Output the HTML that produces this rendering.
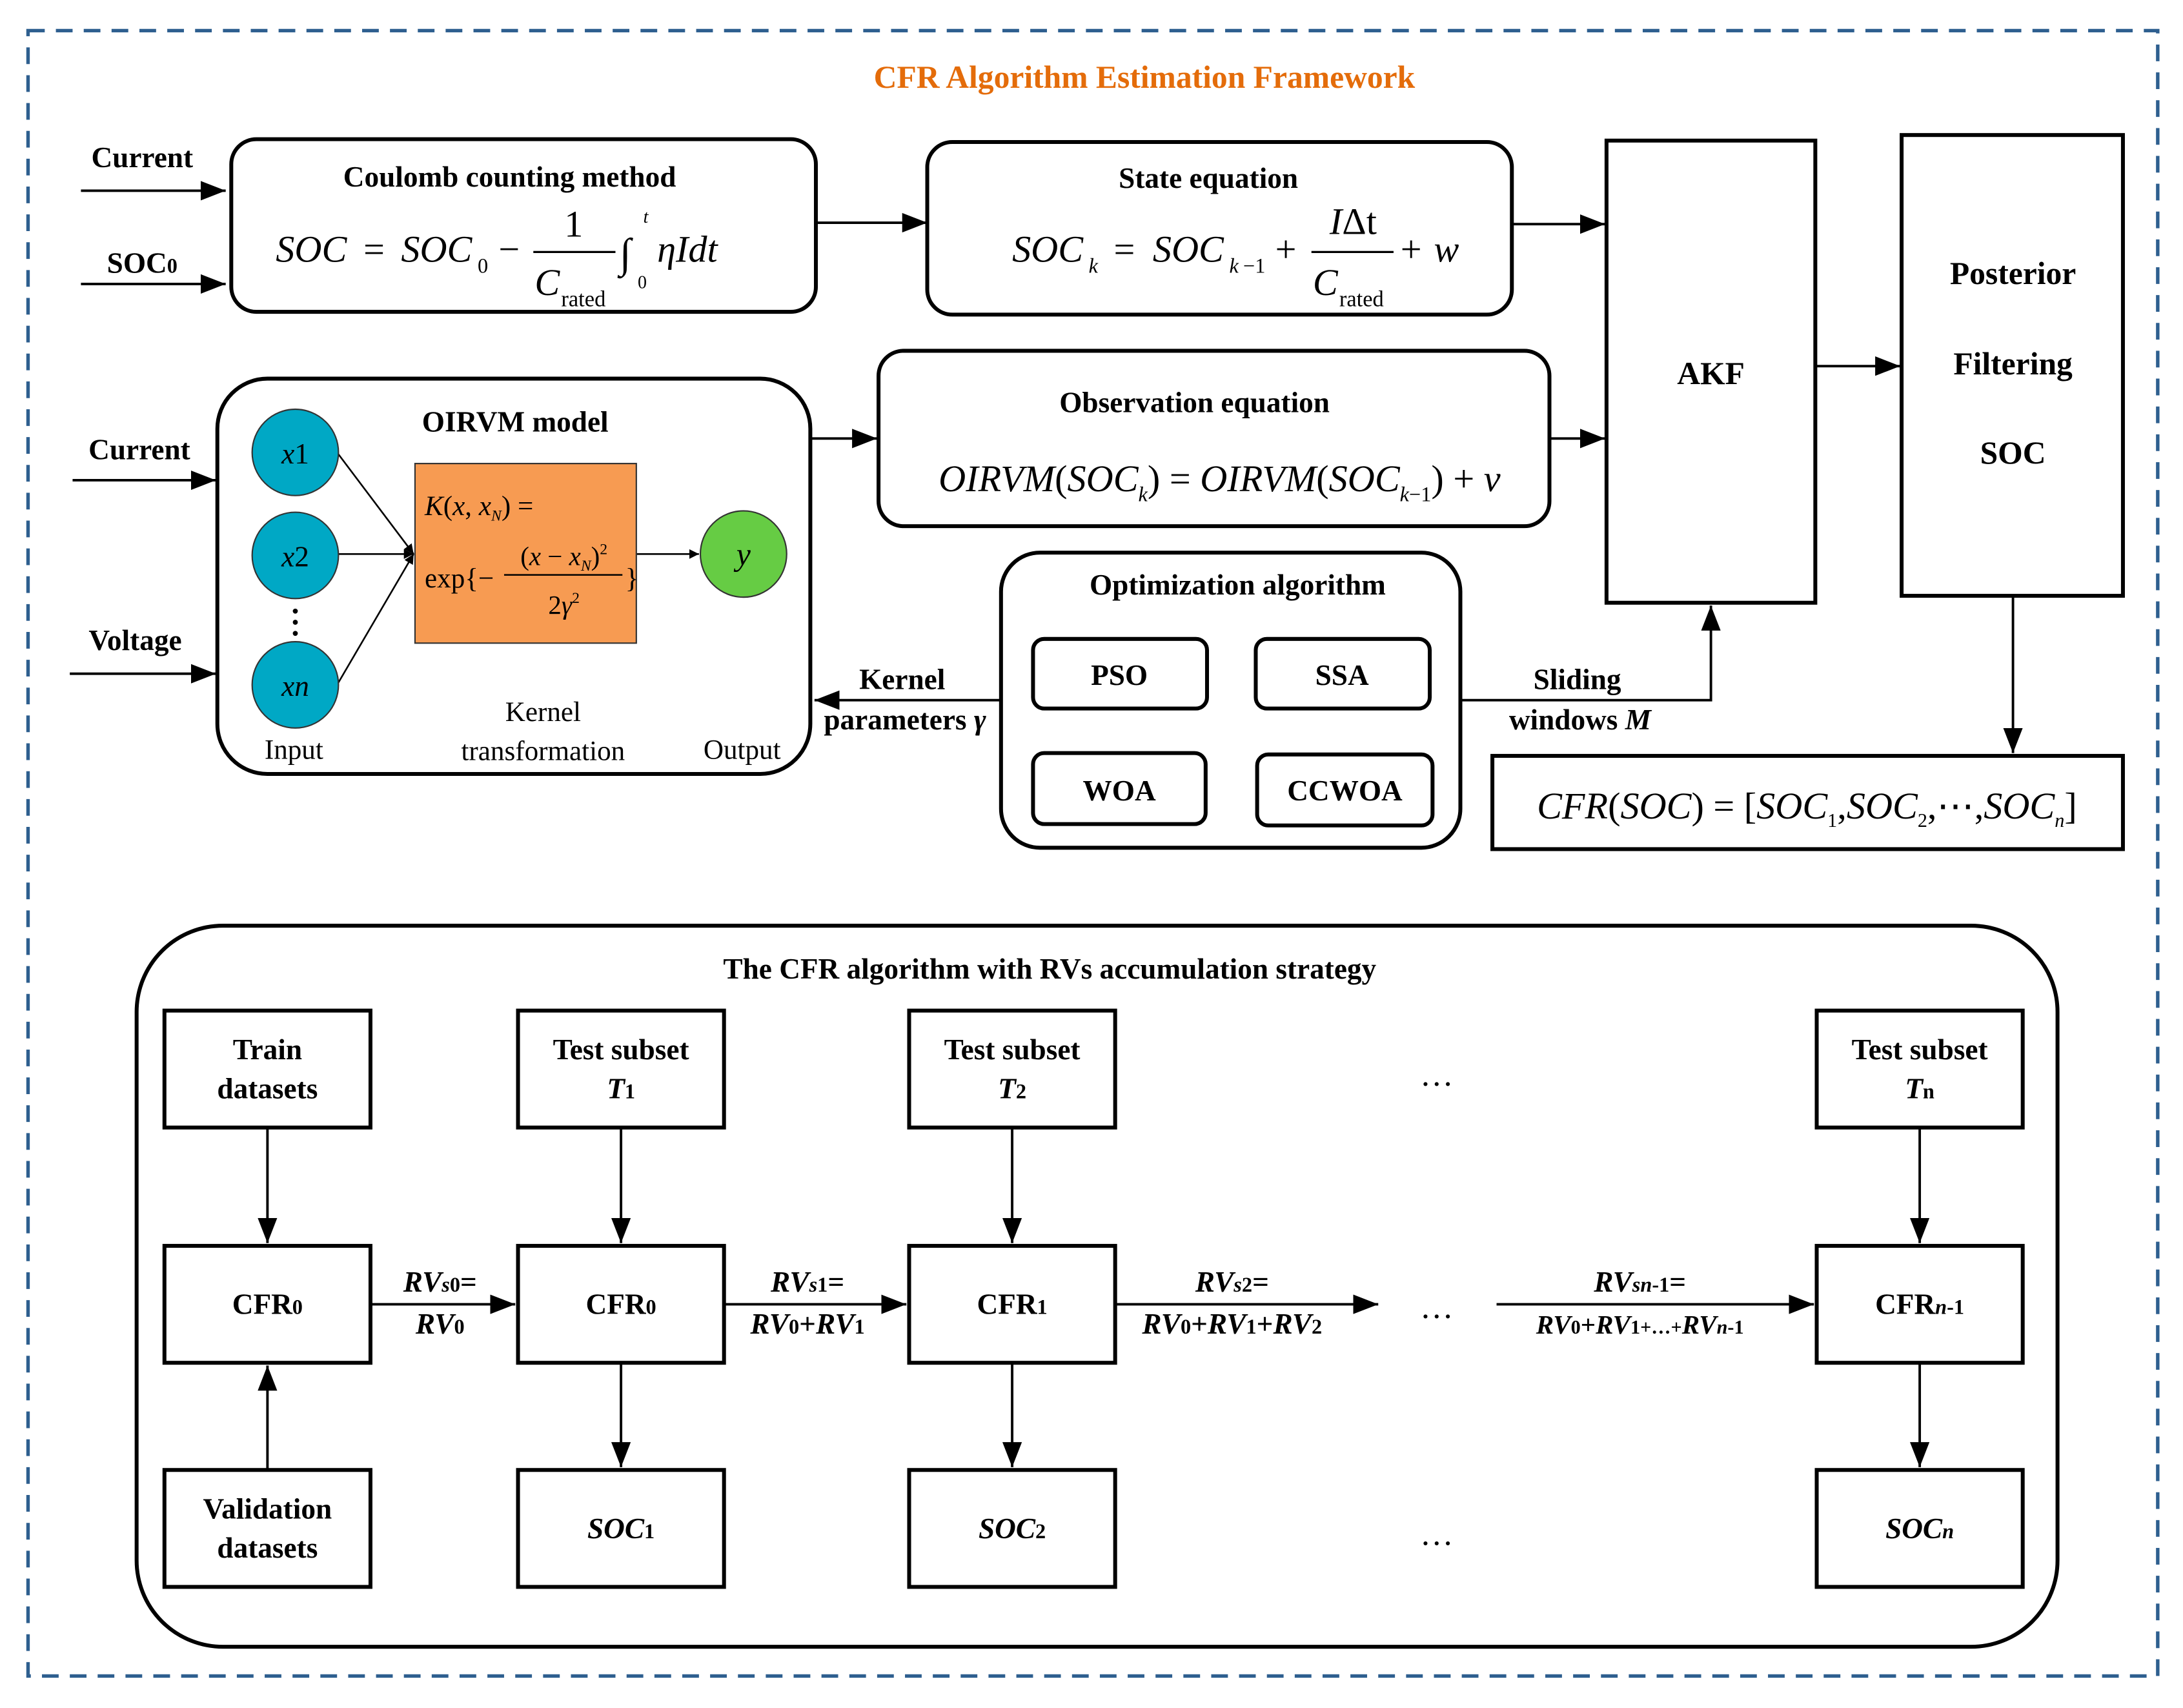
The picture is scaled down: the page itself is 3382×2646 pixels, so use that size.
<!DOCTYPE html>
<html><head><meta charset="utf-8"><style>
html,body{margin:0;padding:0;background:#fff;}
svg{display:block;}
text{font-family:"Liberation Serif",serif;fill:#000;}
.b{font-weight:bold;}
.i{font-style:italic;}
</style></head><body>
<svg width="3382" height="2646" viewBox="0 0 1568 1227" xmlns="http://www.w3.org/2000/svg">
<defs>
<marker id="a" viewBox="0 0 10 10" refX="10" refY="5" markerWidth="7" markerHeight="7" markerUnits="userSpaceOnUse" orient="auto"><path d="M0,0 L10,5 L0,10 z" fill="#000"/></marker>
<marker id="A" viewBox="0 0 10 10" refX="10" refY="5" markerWidth="18" markerHeight="14" markerUnits="userSpaceOnUse" orient="auto" preserveAspectRatio="none"><path d="M0,0 L10,5 L0,10 z" fill="#000"/></marker>
</defs>
<rect x="0" y="0" width="1568" height="1227" fill="#fff"/>
<rect x="20" y="22" width="1530" height="1182" fill="none" stroke="#2e5f8f" stroke-width="2.5" stroke-dasharray="12,8"/>
<text x="822" y="63" text-anchor="middle" class="b" font-size="23" style="fill:#e46c0a">CFR Algorithm Estimation Framework</text>

<g fill="none" stroke="#000" stroke-width="1.8">
<line x1="58" y1="137" x2="162" y2="137" marker-end="url(#A)"/>
<line x1="58" y1="204" x2="162" y2="204" marker-end="url(#A)"/>
<line x1="586" y1="160" x2="666" y2="160" marker-end="url(#A)"/>
<line x1="1086" y1="161" x2="1153" y2="161" marker-end="url(#A)"/>
<line x1="1304" y1="263" x2="1365" y2="263" marker-end="url(#A)"/>
<line x1="1446" y1="429" x2="1446" y2="541" marker-end="url(#A)"/>
<line x1="52" y1="345" x2="155" y2="345" marker-end="url(#A)"/>
<line x1="50" y1="484" x2="155" y2="484" marker-end="url(#A)"/>
<line x1="582" y1="315" x2="630" y2="315" marker-end="url(#A)"/>
<line x1="1113" y1="315" x2="1153" y2="315" marker-end="url(#A)"/>
<line x1="719" y1="503" x2="585" y2="503" marker-end="url(#A)"/>
<polyline points="1049,503 1229,503 1229,435" marker-end="url(#A)"/>
</g>
<g fill="none" stroke="#000" stroke-width="2.8">
<rect x="166" y="100" width="420" height="124" rx="18"/>
<rect x="666" y="102" width="420" height="124" rx="18"/>
<rect x="1154" y="101" width="150" height="332"/>
<rect x="1366" y="97" width="159" height="331"/>
<rect x="1072" y="543" width="453" height="67"/>
<rect x="156" y="272" width="426" height="284" rx="36"/>
<rect x="631" y="252" width="482" height="126" rx="18"/>
<rect x="719" y="397" width="330" height="212" rx="28"/>
<rect x="742" y="459" width="125" height="50" rx="8"/>
<rect x="902" y="459" width="125" height="50" rx="8"/>
<rect x="742" y="541" width="124" height="51" rx="8"/>
<rect x="903" y="542" width="126" height="51" rx="8"/>
</g>
<text x="102" y="120" text-anchor="middle" class="b" font-size="21">Current</text>
<text x="102" y="196" text-anchor="middle" class="b" font-size="21">SOC<tspan font-size="15">0</tspan></text>
<text x="366" y="134" text-anchor="middle" class="b" font-size="21">Coulomb counting method</text>
<text x="198" y="188" class="i" font-size="27">SOC</text><text x="261" y="188" font-size="27">=</text><text x="288" y="188" class="i" font-size="27">SOC</text><text x="343" y="196" font-size="15">0</text><text x="358" y="188" font-size="27">−</text>
<line x1="383" y1="181" x2="442" y2="181" stroke="#000" stroke-width="1.5"/>
<text x="412" y="170" text-anchor="middle" font-size="27">1</text><text x="384" y="212" class="i" font-size="27">C</text><text x="403" y="220" font-size="16">rated</text>
<text x="445" y="192" font-size="30">∫</text><text x="462" y="160" class="i" font-size="13">t</text><text x="458" y="207" font-size="13">0</text>
<text x="472" y="188" class="i" font-size="27">ηIdt</text>

<text x="868" y="135" text-anchor="middle" class="b" font-size="21">State  equation</text>
<text x="727" y="188" class="i" font-size="27">SOC</text><text x="782" y="196" class="i" font-size="15">k</text><text x="800" y="188" font-size="27">=</text><text x="828" y="188" class="i" font-size="27">SOC</text><text x="883" y="196" class="i" font-size="15">k</text><text x="893" y="196" font-size="15">−1</text><text x="916" y="188" font-size="27">+</text>
<line x1="942" y1="181" x2="1001" y2="181" stroke="#000" stroke-width="1.5"/>
<text x="972" y="168" text-anchor="middle" font-size="27"><tspan class="i">I</tspan>Δt</text><text x="943" y="212" class="i" font-size="27">C</text><text x="962" y="220" font-size="16">rated</text>
<text x="1006" y="188" font-size="27">+</text><text x="1030" y="188" class="i" font-size="27">w</text>

<text x="1229" y="276" text-anchor="middle" class="b" font-size="23">AKF</text>
<text x="1446" y="204" text-anchor="middle" class="b" font-size="23">Posterior</text>
<text x="1446" y="269" text-anchor="middle" class="b" font-size="23">Filtering</text>
<text x="1446" y="333" text-anchor="middle" class="b" font-size="23">SOC</text>
<text x="1298" y="588" text-anchor="middle" font-size="27"><tspan class="i">CFR</tspan>(<tspan class="i">SOC</tspan>) = [<tspan class="i">SOC</tspan><tspan font-size="14" dy="6">1</tspan><tspan dy="-6">,</tspan><tspan class="i">SOC</tspan><tspan font-size="14" dy="6">2</tspan><tspan dy="-6">,⋯,</tspan><tspan class="i">SOC</tspan><tspan class="i" font-size="14" dy="6">n</tspan><tspan dy="-6">]</tspan></text>

<text x="100" y="330" text-anchor="middle" class="b" font-size="21">Current</text>
<text x="97" y="467" text-anchor="middle" class="b" font-size="21">Voltage</text>
<text x="370" y="310" text-anchor="middle" class="b" font-size="21">OIRVM model</text>
<g stroke="#000" stroke-width="1.2">
<line x1="242" y1="325" x2="297" y2="398" marker-end="url(#a)"/>
<line x1="242" y1="398" x2="297" y2="398" marker-end="url(#a)"/>
<line x1="242" y1="492" x2="297" y2="398" marker-end="url(#a)"/>
<line x1="457" y1="398" x2="502" y2="398" marker-end="url(#a)"/>
</g>
<g stroke="#333" stroke-width="1">
<circle cx="212" cy="325" r="31" fill="#00a8c5"/>
<circle cx="212" cy="399" r="31" fill="#00a8c5"/>
<circle cx="212" cy="492" r="31" fill="#00a8c5"/>
<circle cx="534" cy="398" r="31" fill="#66cc44"/>
<rect x="298" y="333" width="159" height="129" fill="#f79b52"/>
</g>
<circle cx="212" cy="439" r="1.8"/><circle cx="212" cy="447" r="1.8"/><circle cx="212" cy="455" r="1.8"/>
<text x="212" y="333" text-anchor="middle" font-size="21"><tspan class="i">x</tspan>1</text>
<text x="212" y="407" text-anchor="middle" font-size="21"><tspan class="i">x</tspan>2</text>
<text x="212" y="500" text-anchor="middle" font-size="21"><tspan class="i">x</tspan><tspan class="i">n</tspan></text>
<text x="534" y="406" text-anchor="middle" class="i" font-size="23">y</text>
<text x="305" y="370" font-size="20"><tspan class="i">K</tspan>(<tspan class="i">x</tspan>, <tspan class="i">x</tspan><tspan class="i" font-size="11" dy="4">N</tspan><tspan dy="-4">) =</tspan></text>
<text x="305" y="422" font-size="20">exp{−</text>
<line x1="362" y1="413" x2="447" y2="413" stroke="#000" stroke-width="1.2"/>
<text x="405" y="406" text-anchor="middle" font-size="19">(<tspan class="i">x</tspan> − <tspan class="i">x</tspan><tspan class="i" font-size="11" dy="4">N</tspan><tspan dy="-4">)</tspan><tspan font-size="11" dy="-8">2</tspan></text>
<text x="405" y="441" text-anchor="middle" font-size="19">2<tspan class="i">γ</tspan><tspan font-size="11" dy="-8">2</tspan></text>
<text x="449" y="422" font-size="20">}</text>
<text x="211" y="545" text-anchor="middle" font-size="20">Input</text>
<text x="390" y="518" text-anchor="middle" font-size="20">Kernel</text>
<text x="390" y="546" text-anchor="middle" font-size="20">transformation</text>
<text x="533" y="545" text-anchor="middle" font-size="20">Output</text>

<text x="858" y="296" text-anchor="middle" class="b" font-size="21">Observation equation</text>
<text x="876" y="353" text-anchor="middle" font-size="27"><tspan class="i">OIRVM</tspan>(<tspan class="i">SOC</tspan><tspan class="i" font-size="15" dy="7">k</tspan><tspan dy="-7">) = </tspan><tspan class="i">OIRVM</tspan>(<tspan class="i">SOC</tspan><tspan font-size="15" dy="7"><tspan class="i">k</tspan>−1</tspan><tspan dy="-7">) + </tspan><tspan class="i">v</tspan></text>

<text x="889" y="427" text-anchor="middle" class="b" font-size="21">Optimization algorithm</text>
<text x="804" y="492" text-anchor="middle" class="b" font-size="21">PSO</text>
<text x="964" y="492" text-anchor="middle" class="b" font-size="21">SSA</text>
<text x="804" y="575" text-anchor="middle" class="b" font-size="21">WOA</text>
<text x="966" y="575" text-anchor="middle" class="b" font-size="21">CCWOA</text>
<text x="648" y="495" text-anchor="middle" class="b" font-size="21">Kernel</text>
<text x="650" y="524" text-anchor="middle" class="b" font-size="21">parameters <tspan class="i">γ</tspan></text>
<text x="1133" y="495" text-anchor="middle" class="b" font-size="21">Sliding</text>
<text x="1135" y="524" text-anchor="middle" class="b" font-size="21">windows <tspan class="i">M</tspan></text>

<!-- bottom -->
<rect x="98" y="665" width="1380" height="518" rx="62" fill="none" stroke="#000" stroke-width="2.8"/>
<text x="754" y="703" text-anchor="middle" class="b" font-size="21">The CFR  algorithm with RVs accumulation strategy</text>
<g fill="none" stroke="#000" stroke-width="2.8">
<rect x="118" y="726" width="148" height="84"/><rect x="372" y="726" width="148" height="84"/><rect x="653" y="726" width="148" height="84"/><rect x="1305" y="726" width="148" height="84"/>
<rect x="118" y="895" width="148" height="84"/><rect x="372" y="895" width="148" height="84"/><rect x="653" y="895" width="148" height="84"/><rect x="1305" y="895" width="148" height="84"/>
<rect x="118" y="1056" width="148" height="84"/><rect x="372" y="1056" width="148" height="84"/><rect x="653" y="1056" width="148" height="84"/><rect x="1305" y="1056" width="148" height="84"/>
</g>
<g stroke="#000" stroke-width="1.8">
<line x1="192" y1="810" x2="192" y2="893" marker-end="url(#A)"/>
<line x1="446" y1="810" x2="446" y2="893" marker-end="url(#A)"/>
<line x1="727" y1="810" x2="727" y2="893" marker-end="url(#A)"/>
<line x1="1379" y1="810" x2="1379" y2="893" marker-end="url(#A)"/>
<line x1="192" y1="1056" x2="192" y2="981" marker-end="url(#A)"/>
<line x1="446" y1="979" x2="446" y2="1054" marker-end="url(#A)"/>
<line x1="727" y1="979" x2="727" y2="1054" marker-end="url(#A)"/>
<line x1="1379" y1="979" x2="1379" y2="1054" marker-end="url(#A)"/>
<line x1="266" y1="937" x2="370" y2="937" marker-end="url(#A)"/>
<line x1="520" y1="937" x2="651" y2="937" marker-end="url(#A)"/>
<line x1="801" y1="937" x2="990" y2="937" marker-end="url(#A)"/>
<line x1="1075" y1="937" x2="1303" y2="937" marker-end="url(#A)"/>
</g>
<g class="b" font-size="21" text-anchor="middle">
<text x="192" y="761">Train</text><text x="192" y="789">datasets</text>
<text x="446" y="761">Test subset</text><text x="446" y="789" class="i">T<tspan font-size="15" font-style="normal">1</tspan></text>
<text x="727" y="761">Test subset</text><text x="727" y="789" class="i">T<tspan font-size="15" font-style="normal">2</tspan></text>
<text x="1379" y="761">Test subset</text><text x="1379" y="789" class="i">T<tspan font-size="15" font-style="normal">n</tspan></text>
<text x="192" y="944">CFR<tspan font-size="15">0</tspan></text>
<text x="446" y="944">CFR<tspan font-size="15">0</tspan></text>
<text x="727" y="944">CFR<tspan font-size="15">1</tspan></text>
<text x="1379" y="944">CFR<tspan font-size="15" class="i">n</tspan><tspan font-size="15">-1</tspan></text>
<text x="192" y="1091">Validation</text><text x="192" y="1119">datasets</text>
<text x="446" y="1105" class="i">SOC<tspan font-size="15" font-style="normal">1</tspan></text>
<text x="727" y="1105" class="i">SOC<tspan font-size="15" font-style="normal">2</tspan></text>
<text x="1379" y="1105" class="i">SOC<tspan font-size="15">n</tspan></text>
<text x="316" y="928"><tspan class="i">RV</tspan><tspan font-size="15" class="i">s</tspan><tspan font-size="15">0</tspan>=</text>
<text x="316" y="958"><tspan class="i">RV</tspan><tspan font-size="15">0</tspan></text>
<text x="580" y="928"><tspan class="i">RV</tspan><tspan font-size="15" class="i">s</tspan><tspan font-size="15">1</tspan>=</text>
<text x="580" y="958"><tspan class="i">RV</tspan><tspan font-size="15">0</tspan>+<tspan class="i">RV</tspan><tspan font-size="15">1</tspan></text>
<text x="885" y="928"><tspan class="i">RV</tspan><tspan font-size="15" class="i">s</tspan><tspan font-size="15">2</tspan>=</text>
<text x="885" y="958"><tspan class="i">RV</tspan><tspan font-size="15">0</tspan>+<tspan class="i">RV</tspan><tspan font-size="15">1</tspan>+<tspan class="i">RV</tspan><tspan font-size="15">2</tspan></text>
<text x="1178" y="928"><tspan class="i">RV</tspan><tspan font-size="15" class="i">sn</tspan><tspan font-size="15">-1</tspan>=</text>
<text x="1178" y="958" font-size="19"><tspan class="i">RV</tspan><tspan font-size="14">0</tspan>+<tspan class="i">RV</tspan><tspan font-size="14">1</tspan><tspan font-size="14">+…+</tspan><tspan class="i">RV</tspan><tspan font-size="14" class="i">n</tspan><tspan font-size="14">-1</tspan></text>
</g>
<g font-size="24" text-anchor="middle">
<text x="1032" y="780">…</text><text x="1032" y="947">…</text><text x="1032" y="1110">…</text>
</g>
</svg>
</body></html>
